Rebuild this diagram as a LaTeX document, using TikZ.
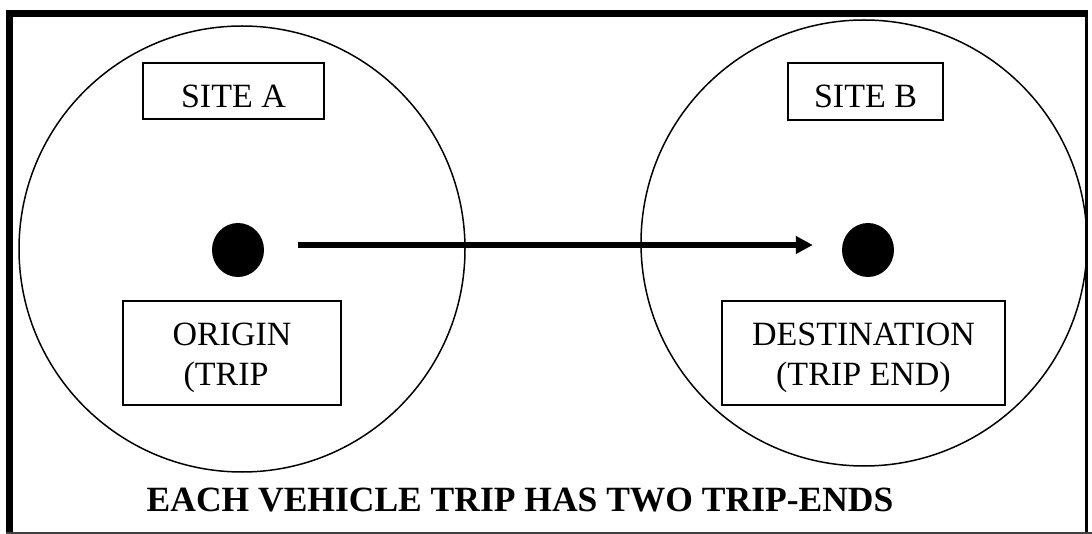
\documentclass[tikz,border=0pt]{standalone}
\usepackage{fontspec}
\setmainfont{Liberation Serif}
\usetikzlibrary{arrows.meta}
\newcommand{\onelinebox}[4]{\vbox to #2{\offinterlineskip\vskip#3\hbox to #1{\hss\smash{#4}\hss}\vss}}
\newcommand{\twolinebox}[5]{\vbox to #2{\offinterlineskip\vskip#3\hbox to #1{\hss\smash{#4}\hss}\vskip39pt\hbox to #1{\hss\smash{#5}\hss}\vss}}
\tikzset{
  site/.style={circle, draw, line width=1.5pt, minimum size=446pt, inner sep=0pt},
  dotnode/.style={ellipse, fill=black, minimum width=52pt, minimum height=54pt, inner sep=0pt},
  labelbox/.style={draw, line width=1.4pt, inner sep=0pt, font=\fontsize{34}{39}\selectfont},
  tripline/.style={line width=6pt, -{Triangle[length=17pt,width=17pt]}},
  frame/.style={line width=7pt},
}
\usetikzlibrary{shapes.geometric}
\begin{document}
\begin{tikzpicture}[x=1pt,y=-1pt]
\useasboundingbox (0,0) rectangle (1092,534);
% outer frame
\draw[frame] (9.5,10) -- (9.5,534);
\draw[frame] (6,13.5) -- (1088,13.5);
\draw[line width=3pt] (1086.5,10) -- (1086.5,534);
\draw[line width=2pt, black!75] (6,533) -- (1092,533);
% sites
\node[site] (siteA) at (242,249) {};
\node[site] (siteB) at (864,243) {};
% labels
\node[labelbox] (labA) at (233.5,91) {\onelinebox{181pt}{56pt}{45pt}{SITE A}};
\node[labelbox] (labB) at (865.5,91.5) {\onelinebox{155pt}{57pt}{45pt}{SITE B}};
\node[labelbox] (orig) at (232,353) {\twolinebox{218pt}{104pt}{45pt}{ORIGIN}{(TRIP\hspace*{12pt}}};
\node[labelbox] (dest) at (863.5,353) {\twolinebox{283pt}{104pt}{45pt}{DESTINATION}{(TRIP END)}};
% dots
\node[dotnode] (dotA) at (238,250) {};
\node[dotnode] (dotB) at (868,250) {};
% arrow
\draw[tripline, shorten <=34pt, shorten >=29pt] ([yshift=5pt]dotA.east) -- ([yshift=5pt]dotB.west);
% caption
\node[anchor=base, inner sep=0pt, font=\fontsize{35.5}{40}\selectfont\bfseries] (caption) at (520,511) {EACH VEHICLE TRIP HAS TWO TRIP-ENDS};
\end{tikzpicture}
\end{document}
